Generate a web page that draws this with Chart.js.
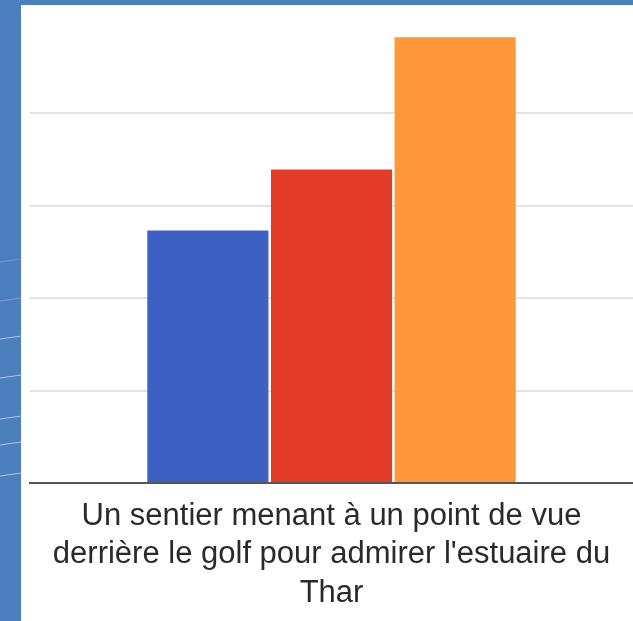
<!DOCTYPE html>
<html>
<head>
<meta charset="utf-8">
<script src="https://cdn.jsdelivr.net/npm/chart.js@4"></script>
<style>
  html, body { margin: 0; padding: 0; }
  body { width: 633px; height: 621px; background: #4b7fbd; position: relative; overflow: hidden; }
  .streak { position: absolute; left: -5px; width: 30px; height: 1px; background: rgba(255,255,255,0.55); transform: rotate(-8deg); }
  #panel { position: absolute; left: 21px; top: 5px; width: 612px; height: 616px; background: #fff; }
  #chart { display: block; }
</style>
</head>
<body>
<div class="streak" style="top:260px;opacity:.4"></div>
<div class="streak" style="top:299px;opacity:.5"></div>
<div class="streak" style="top:337px"></div>
<div class="streak" style="top:376px"></div>
<div class="streak" style="top:417px"></div>
<div class="streak" style="top:443px"></div>
<div class="streak" style="top:474px"></div>
<div id="panel"><canvas id="chart" width="612" height="616"></canvas></div>
<script>
// --- data ---
const categories = [['Un sentier menant à un point de vue', "derrière le golf pour admirer l'estuaire du", 'Thar']];
const seriesNames = ['Série 1', 'Série 2', 'Série 3'];
const seriesValues = [[2.73], [3.39], [4.82]];
const seriesColors = ['#3c61c3', '#e23c28', '#ff973b'];
const yMax = 5;

const datasets = seriesNames.map((name, i) => ({
    label: name,
    data: seriesValues[i],
    backgroundColor: seriesColors[i],
    borderWidth: 0,
    categoryPercentage: 0.615,
    barPercentage: 0.98
}));

new Chart(document.getElementById('chart'), {
    type: 'bar',
    data: { labels: categories, datasets: datasets },
    options: {
        responsive: false,
        animation: false,
        layout: { padding: { left: 9, right: 0, top: 15.5, bottom: 0 } },
        plugins: { legend: { display: false }, tooltip: { enabled: false } },
        scales: {
            x: {
                grid: { display: false },
                border: { color: '#555', width: 2 },
                ticks: {
                    color: '#2a2a2a',
                    padding: 6,
                    maxRotation: 0,
                    autoSkip: false,
                    font: { family: '"Liberation Sans", Arial, sans-serif', size: 31, lineHeight: 1.24 }
                },
                afterFit: (s) => { s.height = 138; }
            },
            y: {
                min: 0,
                max: yMax,
                ticks: { display: false, stepSize: 1 },
                border: { display: false },
                grid: {
                    drawTicks: false,
                    lineWidth: 2,
                    color: (c) => (c.tick && (c.tick.value === 0 || c.tick.value === yMax)) ? 'rgba(0,0,0,0)' : '#e2e2e2'
                },
                afterFit: (s) => { s.width = 0; }
            }
        }
    }
});
</script>
</body>
</html>
